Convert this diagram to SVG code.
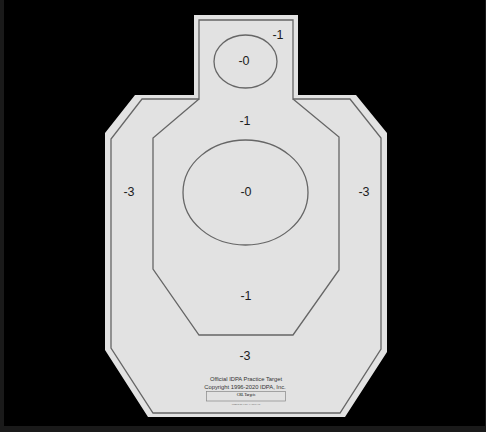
<svg xmlns="http://www.w3.org/2000/svg" width="486" height="432" viewBox="0 0 486 432">
  <style>
    .ln { fill: none; stroke: #666; stroke-width: 1.3; stroke-linejoin: miter; }
    .lbl { font-family: "Liberation Sans", Arial, sans-serif; font-size: 12.5px; fill: #1c1c1c; text-anchor: middle; }
    .fine { font-family: "Liberation Sans", Arial, sans-serif; font-size: 5.8px; fill: #333; text-anchor: middle; }
    .tiny { font-family: "Liberation Serif", serif; fill: #444; text-anchor: middle; }
  </style>
  <rect x="0" y="0" width="486" height="432" fill="#1a1a1a"/>
  <rect x="4" y="0" width="481" height="426" fill="#000"/>

  <g id="target-body">
    <polygon points="194,15 298,15 298,95 356,95 387,133 387,352 345,417 148,417 105,350 105,133 135,95 194,95" fill="#e2e2e2"/>
  </g>

  <g id="lines">
    <polygon class="ln" points="199,20 293,20 293,99 350,99 381,138 381,349 340,413 153,413 111,348 111,139 142,99 199,99"/>
    <polyline class="ln" points="199,99 153,138 153,269 199,335 293,335 339,270 339,137 293,99"/>
  </g>

  <g id="head-zero">
    <ellipse class="ln" cx="245.5" cy="61.5" rx="31.5" ry="26.5"/>
    <text class="lbl" x="244" y="65">-0</text>
  </g>
  <g id="head-one">
    <text class="lbl" x="278" y="39">-1</text>
  </g>

  <g id="body-zero">
    <ellipse class="ln" cx="245.5" cy="192.5" rx="62.5" ry="52.5"/>
    <text class="lbl" x="246" y="196">-0</text>
  </g>

  <g id="body-one">
    <text class="lbl" x="245" y="125">-1</text>
    <text class="lbl" x="246" y="300">-1</text>
  </g>

  <g id="body-three">
    <text class="lbl" x="129" y="196">-3</text>
    <text class="lbl" x="364" y="196">-3</text>
    <text class="lbl" x="245" y="360">-3</text>
  </g>

  <g id="imprint">
    <text class="fine" x="246" y="381">Official IDPA Practice Target</text>
    <text class="fine" x="245" y="389">Copyright 1996-2020 IDPA, Inc.</text>
    <rect x="206.5" y="391.5" width="79" height="9.5" fill="none" stroke="#888" stroke-width="0.7"/>
    <text class="tiny" x="246" y="396" font-size="3.4" font-weight="bold">CRL Targets</text>
    <text class="tiny" x="246" y="405" font-size="2.6">Printed by CRL TARGETS</text>
  </g>
</svg>
